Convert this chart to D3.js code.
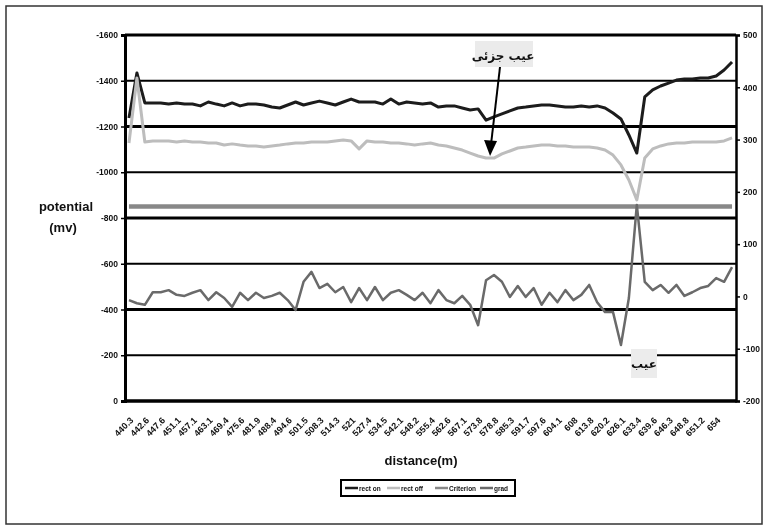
<!DOCTYPE html>
<html>
<head>
<meta charset="utf-8">
<script src="https://cdn.jsdelivr.net/npm/d3@7"></script>
<style>
  body { margin: 0; background: #fff; }
  svg { display: block; filter: grayscale(100%); }
  .tick-l, .tick-r { font-family: "Liberation Sans Narrow", "Liberation Sans", Arial, sans-serif; font-weight: bold; font-size: 8.5px; fill: #111; }
  .tick-x { font-family: "Liberation Sans Narrow", "Liberation Sans", Arial, sans-serif; font-weight: bold; font-size: 9px; fill: #111; }
  .title { font-family: "Liberation Sans Narrow", "Liberation Sans", Arial, sans-serif; font-weight: bold; font-size: 13px; fill: #111; }
  .leg { font-family: "Liberation Sans Narrow", "Liberation Sans", Arial, sans-serif; font-weight: bold; font-size: 6.5px; fill: #111; }
  .fa { font-family: "DejaVu Sans", "Noto Sans", sans-serif; font-weight: bold; font-size: 12px; fill: #111; }
</style>
</head>
<body>
<svg id="chart" width="774" height="531"></svg>
<script>
// ---------- data ----------
const distanceLabels = ["440.3","442.6","447.6","451.1","457.1","463.1","469.4","475.6","481.9","488.4",
  "494.6","501.5","508.3","514.3","521","527.4","534.5","542.1","548.2","555.4",
  "562.6","567.1","573.8","578.8","585.3","591.7","597.6","604.1","608","613.8",
  "620.2","626.1","633.4","639.6","646.3","648.8","651.2","654"];

const rectOn = [-1237,-1434,-1303,-1303,-1303,-1298,-1303,-1298,-1298,-1290,
  -1307,-1298,-1290,-1303,-1290,-1298,-1298,-1294,-1285,-1281,
  -1294,-1307,-1294,-1303,-1311,-1303,-1294,-1307,-1320,-1307,
  -1307,-1307,-1298,-1320,-1298,-1307,-1303,-1298,-1303,-1285,
  -1290,-1290,-1281,-1272,-1277,-1228,-1242,-1255,-1268,-1281,
  -1285,-1290,-1294,-1294,-1290,-1285,-1285,-1290,-1285,-1290,
  -1281,-1259,-1233,-1163,-1084,-1329,-1360,-1377,-1390,-1403,
  -1408,-1408,-1412,-1412,-1421,-1447,-1482];

const rectOff = [-1128,-1412,-1132,-1137,-1137,-1137,-1132,-1137,-1132,-1132,
  -1128,-1128,-1119,-1124,-1119,-1115,-1115,-1110,-1115,-1119,
  -1124,-1128,-1128,-1132,-1132,-1132,-1137,-1141,-1137,-1102,
  -1137,-1132,-1132,-1128,-1128,-1124,-1119,-1124,-1128,-1119,
  -1115,-1106,-1097,-1084,-1071,-1062,-1062,-1080,-1093,-1106,
  -1110,-1115,-1119,-1119,-1115,-1115,-1110,-1110,-1110,-1106,
  -1097,-1075,-1032,-966,-879,-1062,-1102,-1115,-1124,-1128,
  -1128,-1132,-1132,-1132,-1132,-1137,-1150];

const criterion = [-850,-850,-850,-850,-850,-850,-850,-850,-850,-850,
  -850,-850,-850,-850,-850,-850,-850,-850,-850,-850,
  -850,-850,-850,-850,-850,-850,-850,-850,-850,-850,
  -850,-850,-850,-850,-850,-850,-850,-850,-850,-850,
  -850,-850,-850,-850,-850,-850,-850,-850,-850,-850,
  -850,-850,-850,-850,-850,-850,-850,-850,-850,-850,
  -850,-850,-850,-850,-850,-850,-850,-850,-850,-850,
  -850,-850,-850,-850,-850,-850,-850];

const grad = [-7,-13,-16,8,8,12,3,1,7,12,
  -7,8,-3,-20,7,-7,7,-3,1,7,
  -7,-26,28,47,16,24,8,18,-11,16,
  -7,18,-7,7,12,3,-7,7,-13,12,
  -7,-13,1,-16,-55,31,41,28,-1,20,
  -1,16,-16,7,-11,12,-7,3,22,-11,
  -30,-30,-93,-3,175,28,12,22,7,22,
  1,8,16,20,35,28,56];

const leftTicks = [0,-200,-400,-600,-800,-1000,-1200,-1400,-1600];
const rightTicks = [-200,-100,0,100,200,300,400,500];
const legendNames = ["rect on","rect off","Criterion","grad"];
const yTitle = ["potential","(mv)"];
const xTitle = "distance(m)";
const noteMinor = "عیب جزئی";
const noteMajor = "عیب";

// ---------- layout ----------
const svg = d3.select("#chart");
const L = 125, R = 736, T = 35, B = 401;
const idx = d3.range(rectOn.length);

const x = d3.scalePoint().domain(idx).range([L, R]).padding(0.5);
const yL = d3.scaleLinear().domain([0, -1600]).range([B, T]);
const yR = d3.scaleLinear().domain([-200, 500]).range([B, T]);

svg.append("rect").attr("width", 774).attr("height", 531).attr("fill", "#fff");
// outer frame
svg.append("rect").attr("x", 6).attr("y", 6).attr("width", 756).attr("height", 518)
  .attr("fill", "none").attr("stroke", "#333").attr("stroke-width", 1.5);

// gridlines
svg.append("g").selectAll("line").data(leftTicks).join("line")
  .attr("x1", L).attr("x2", R)
  .attr("y1", d => yL(d)).attr("y2", d => yL(d))
  .attr("stroke", "#000")
  .attr("stroke-width", (d, i) => i % 2 === 0 ? 3 : 2);

// left axis
const axL = svg.append("g").attr("transform", `translate(${L},0)`)
  .call(d3.axisLeft(yL).tickValues(leftTicks).tickSize(4).tickPadding(3).tickFormat(d => String(d)));
axL.select(".domain").attr("stroke", "#000").attr("stroke-width", 3);
axL.selectAll(".tick line").attr("stroke", "#000").attr("stroke-width", 1.5);
axL.selectAll(".tick text").attr("class", "tick-l");
axL.attr("font-size", null).attr("font-family", null);

// right axis
const axR = svg.append("g").attr("transform", `translate(${R},0)`)
  .call(d3.axisRight(yR).tickValues(rightTicks).tickSize(4).tickPadding(3).tickFormat(d => String(d)));
axR.select(".domain").attr("stroke", "#000").attr("stroke-width", 2.5);
axR.selectAll(".tick line").attr("stroke", "#000").attr("stroke-width", 1.5);
axR.selectAll(".tick text").attr("class", "tick-r");
axR.attr("font-size", null).attr("font-family", null);

// x axis
svg.append("line").attr("x1", L - 1).attr("x2", R + 1).attr("y1", B).attr("y2", B)
  .attr("stroke", "#000").attr("stroke-width", 3);
const labelIdx = idx.filter(i => i % 2 === 0 && i / 2 < distanceLabels.length);
svg.append("g").selectAll("text").data(labelIdx).join("text")
  .attr("class", "tick-x")
  .attr("text-anchor", "end")
  .attr("transform", d => `translate(${x(d) + 5},${B + 20}) rotate(-45)`)
  .text(d => distanceLabels[d / 2]);

// series
const lineL = d3.line().x((d, i) => x(i)).y(d => yL(d));
const lineR = d3.line().x((d, i) => x(i)).y(d => yR(d));
const series = [
  {v: rectOn, gen: lineL, color: "#1c1c1c", w: 3},
  {v: rectOff, gen: lineL, color: "#bdbdbd", w: 3},
  {v: criterion, gen: lineL, color: "#888", w: 4.5},
  {v: grad, gen: lineR, color: "#6a6a6a", w: 2.5}
];
svg.append("g").selectAll("path").data(series).join("path")
  .attr("d", d => d.gen(d.v))
  .attr("fill", "none")
  .attr("stroke", d => d.color)
  .attr("stroke-width", d => d.w)
  .attr("stroke-linejoin", "round");

// titles
svg.append("text").attr("class", "title").attr("x", 66).attr("y", 211)
  .attr("text-anchor", "middle").text(yTitle[0]);
svg.append("text").attr("class", "title").attr("x", 63).attr("y", 232)
  .attr("text-anchor", "middle").text(yTitle[1]);
svg.append("text").attr("class", "title").attr("x", 421).attr("y", 465)
  .attr("text-anchor", "middle").text(xTitle);

// legend
const lg = svg.append("g");
lg.append("rect").attr("x", 341).attr("y", 480).attr("width", 174).attr("height", 16)
  .attr("fill", "#fff").attr("stroke", "#000").attr("stroke-width", 2);
const legX = [345, 387, 435, 480];
series.forEach((s, i) => {
  lg.append("line").attr("x1", legX[i]).attr("x2", legX[i] + 13)
    .attr("y1", 488).attr("y2", 488).attr("stroke", s.color).attr("stroke-width", 2.5);
  lg.append("text").attr("class", "leg").attr("x", legX[i] + 14).attr("y", 490.5).text(legendNames[i]);
});

// annotations
const ann = svg.append("g");
ann.append("rect").attr("x", 475).attr("y", 41).attr("width", 58).attr("height", 26).attr("fill", "#ebebeb");
ann.append("text").attr("class", "fa").attr("x", 503).attr("y", 60).attr("text-anchor", "middle").text(noteMinor);
const tipX = x(45) + 4, tipY = yL(rectOff[45]) - 2;
ann.append("line").attr("x1", 500).attr("y1", 67).attr("x2", tipX + 1).attr("y2", tipY - 12)
  .attr("stroke", "#000").attr("stroke-width", 2);
ann.append("path")
  .attr("d", `M${tipX},${tipY} L${tipX - 6},${tipY - 16} L${tipX + 7},${tipY - 15} Z`)
  .attr("fill", "#000");

ann.append("rect").attr("x", 631).attr("y", 349).attr("width", 26).attr("height", 29).attr("fill", "#ececec");
ann.append("text").attr("class", "fa").attr("x", 644).attr("y", 368).attr("text-anchor", "middle").text(noteMajor);
</script>
</body>
</html>
